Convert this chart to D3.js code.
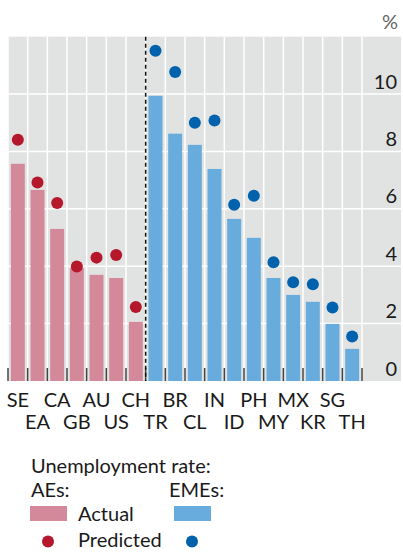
<!DOCTYPE html>
<html>
<head>
<meta charset="utf-8">
<script src="https://cdn.jsdelivr.net/npm/d3@7"></script>
<style>
  body { margin: 0; background: #fff; }
  text { font-family: Lato, "Noto Sans", sans-serif; fill: #1a1a1a; font-size: 20px; }
</style>
</head>
<body>
<div id="chart"></div>
<script>
const aeCodes = ["SE", "EA", "CA", "GB", "AU", "US", "CH"];
const aeActual = [7.57, 6.66, 5.30, 3.93, 3.70, 3.59, 2.06];
const aePredicted = [8.41, 6.92, 6.20, 3.99, 4.30, 4.39, 2.58];

const emeCodes = ["TR", "BR", "CL", "IN", "ID", "PH", "MY", "MX", "KR", "SG", "TH"];
const emeActual = [9.94, 8.62, 8.23, 7.39, 5.65, 4.99, 3.59, 3.00, 2.76, 1.99, 1.12];
const emePredicted = [11.51, 10.77, 9.00, 9.08, 6.14, 6.46, 4.14, 3.44, 3.37, 2.56, 1.55];

const yTicks = [0, 2, 4, 6, 8, 10];

const colors = {
  aeBar: "#d3899a", aeDot: "#b5172b",
  emeBar: "#67acdc", emeDot: "#0062ad"
};

const rows = [
  ...aeCodes.map((c, i) => ({ code: c, actual: aeActual[i], predicted: aePredicted[i], group: "ae" })),
  ...emeCodes.map((c, i) => ({ code: c, actual: emeActual[i], predicted: emePredicted[i], group: "eme" }))
];

const width = 403, height = 552;
const plot = { left: 8, right: 362, top: 36.7, bottom: 381, bgRight: 401 };

const svg = d3.select("#chart").append("svg")
  .attr("width", width)
  .attr("height", height);

const x = d3.scaleBand()
  .domain(rows.map(d => d.code))
  .range([plot.left, plot.right])
  .paddingInner(0.29)
  .paddingOuter(0.145);

const y = d3.scaleLinear().domain([0, 12]).range([plot.bottom, plot.top]);

// background
svg.append("rect")
  .attr("x", plot.left)
  .attr("y", plot.top)
  .attr("width", plot.bgRight - plot.left)
  .attr("height", plot.bottom - plot.top)
  .attr("fill", "#e1e2e2");

// horizontal grid
svg.append("g").selectAll("line")
  .data(yTicks.filter(v => v > 0))
  .join("line")
  .attr("x1", plot.left).attr("x2", plot.bgRight)
  .attr("y1", d => y(d)).attr("y2", d => y(d))
  .attr("stroke", "#fff").attr("stroke-width", 1.5);

// vertical grid at band boundaries
const step = x.step();
const boundaries = d3.range(rows.length + 1).map(i => plot.left + i * step);
svg.append("g").selectAll("line")
  .data(boundaries)
  .join("line")
  .attr("x1", d => d).attr("x2", d => d)
  .attr("y1", plot.top).attr("y2", plot.bottom)
  .attr("stroke", "#fff").attr("stroke-width", 1.5);

// y labels on the right, above their gridlines
svg.append("g").selectAll("text")
  .data(yTicks)
  .join("text")
  .attr("x", 397)
  .attr("y", d => y(d) - 5.5)
  .attr("text-anchor", "end")
  .text(d => d);

svg.append("text")
  .attr("x", 398).attr("y", 29)
  .attr("text-anchor", "end")
  .style("fill", "#666")
  .text("%");

// bars
svg.append("g").selectAll("rect")
  .data(rows)
  .join("rect")
  .attr("x", d => x(d.code))
  .attr("width", x.bandwidth())
  .attr("y", d => y(d.actual))
  .attr("height", d => y(0) - y(d.actual))
  .attr("fill", d => d.group === "ae" ? colors.aeBar : colors.emeBar);

// bottom ticks
svg.append("g").selectAll("line")
  .data(boundaries)
  .join("line")
  .attr("x1", d => d).attr("x2", d => d)
  .attr("y1", plot.bottom - 13).attr("y2", plot.bottom)
  .attr("stroke", "#444").attr("stroke-width", 1.5);

// divider between AEs and EMEs
const divX = plot.left + aeCodes.length * step;
svg.append("line")
  .attr("x1", divX).attr("x2", divX)
  .attr("y1", plot.top).attr("y2", plot.bottom)
  .attr("stroke", "#111").attr("stroke-width", 1.5)
  .attr("stroke-dasharray", "4,3");

// predicted dots
svg.append("g").selectAll("circle")
  .data(rows)
  .join("circle")
  .attr("cx", d => x(d.code) + x.bandwidth() / 2)
  .attr("cy", d => y(d.predicted))
  .attr("r", 6)
  .attr("fill", d => d.group === "ae" ? colors.aeDot : colors.emeDot);

// x labels, staggered in two rows
svg.append("g").selectAll("text")
  .data(rows)
  .join("text")
  .attr("x", d => x(d.code) + x.bandwidth() / 2)
  .attr("y", (d, i) => i % 2 === 0 ? 407 : 429)
  .attr("text-anchor", "middle")
  .text(d => d.code);

// legend
const legend = svg.append("g");
legend.append("text").attr("x", 31).attr("y", 472.5).text("Unemployment rate:");
legend.append("text").attr("x", 31).attr("y", 496.5).text("AEs:");
legend.append("text").attr("x", 169).attr("y", 496.5).text("EMEs:");
legend.append("rect").attr("x", 30).attr("y", 506).attr("width", 37).attr("height", 15).attr("fill", colors.aeBar);
legend.append("rect").attr("x", 174).attr("y", 506).attr("width", 37).attr("height", 15).attr("fill", colors.emeBar);
legend.append("text").attr("x", 78).attr("y", 521).text("Actual");
legend.append("circle").attr("cx", 48).attr("cy", 541.5).attr("r", 6).attr("fill", colors.aeDot);
legend.append("circle").attr("cx", 192).attr("cy", 541.5).attr("r", 6).attr("fill", colors.emeDot);
legend.append("text").attr("x", 78).attr("y", 547).text("Predicted");
</script>
</body>
</html>
